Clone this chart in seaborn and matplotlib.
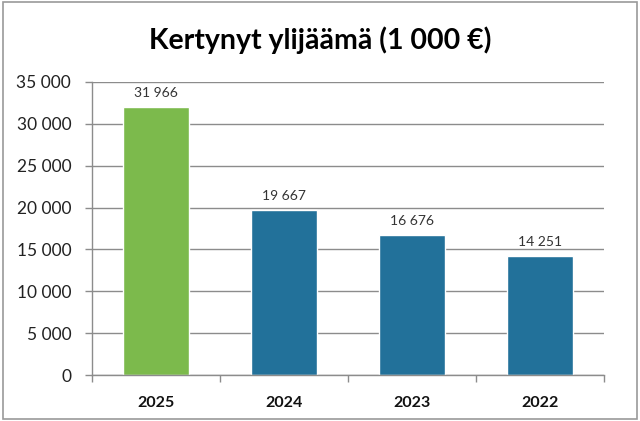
import matplotlib
matplotlib.use("Agg")
import matplotlib.pyplot as plt
import seaborn as sns
import pandas as pd
from matplotlib.patches import Rectangle
from matplotlib.ticker import FuncFormatter, FixedLocator

years = ["2025", "2024", "2023", "2022"]
values = [31966, 19667, 16676, 14251]
colors = ["#7cba4c", "#22719a", "#22719a", "#22719a"]
title = "Kertynyt ylijäämä (1 000 €)"

sns.set_theme(style="white")
plt.rcParams["font.family"] = ["Lato", "DejaVu Sans"]

df = pd.DataFrame({"year": years, "value": values})

fig = plt.figure(figsize=(6.4, 4.21), dpi=100)
ax = fig.add_axes([92/640, 1-375/421, 512/640, 293/421])

sns.barplot(data=df, x="year", y="value", hue="year", palette=colors,
            width=0.52, legend=False, ax=ax, saturation=1)

def fmt(v):
    return f"{int(round(v)):,}".replace(",", " ")

ax.set_ylim(0, 35000)
ax.set_xlim(-0.5, 3.5)
ax.set_yticks(range(0, 35001, 5000))
ax.yaxis.set_major_formatter(FuncFormatter(lambda v, p: fmt(v)))
ax.yaxis.grid(True, color="#8c8c8c", linewidth=1)
ax.set_axisbelow(True)
ax.set_xlabel("")
ax.set_ylabel("")

for s in ["top", "right"]:
    ax.spines[s].set_visible(False)
for s in ["left", "bottom"]:
    ax.spines[s].set_color("#8c8c8c")
    ax.spines[s].set_linewidth(1)

ax.tick_params(axis="y", length=5, width=1, color="#8c8c8c", left=True,
               labelsize=12.5, labelcolor="#222222", pad=10)
ax.tick_params(axis="x", length=0, labelsize=11.5, labelcolor="#111111", pad=15)
for lbl in ax.get_xticklabels():
    lbl.set_fontweight("bold")

# minor ticks at category boundaries
ax.xaxis.set_minor_locator(FixedLocator([-0.5, 0.5, 1.5, 2.5, 3.5]))
ax.tick_params(axis="x", which="minor", length=5, width=1, color="#8c8c8c", bottom=True)

for i, v in enumerate(values):
    ax.text(i, v + 950, fmt(v), ha="center", va="bottom", fontsize=10, color="#333333")

fig.text(0.5, 1-40/421, title, ha="center", va="center", fontsize=20.5, fontweight="bold", color="#000000")

fig.patches.append(Rectangle((3/640, 1-419/421), 634/640, 417/421, transform=fig.transFigure,
                             fill=False, edgecolor="#9a9a9a", linewidth=1.2))

fig.savefig("out.png", dpi=100)
